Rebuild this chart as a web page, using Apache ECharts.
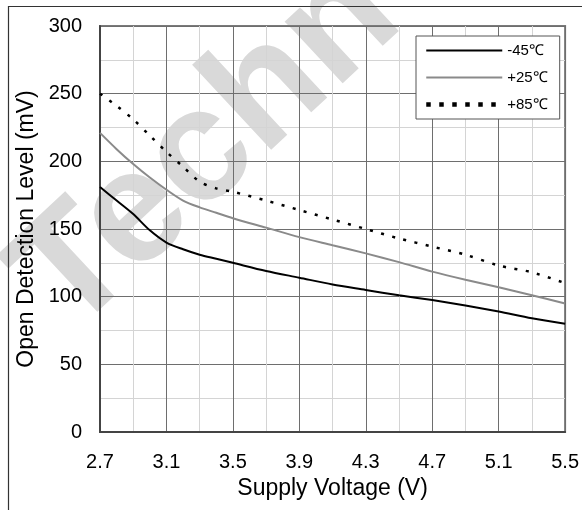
<!DOCTYPE html>
<html>
<head>
<meta charset="utf-8">
<script src="https://cdn.jsdelivr.net/npm/echarts@6/dist/echarts.min.js"></script>
<style>
  html, body { margin: 0; padding: 0; background: #fff; }
  #chart { width: 582px; height: 510px; }
</style>
</head>
<body>
<div id="chart"></div>
<script>
// Supply voltage sample points (V)
const voltages = [2.7, 2.8, 2.9, 3.0, 3.1, 3.2, 3.3, 3.4, 3.5, 3.7, 3.9, 4.1, 4.3, 4.5, 4.7, 4.9, 5.1, 5.3, 5.5];

// Open detection level (mV) per temperature
const levelMinus45 = [181, 171, 161, 149, 140, 135, 131, 128, 125, 119, 114, 109, 105, 101, 97.5, 93.5, 89, 84, 80];
const levelPlus25  = [221, 209, 198, 188, 179, 171, 166, 162, 158, 151, 144, 138, 132, 125.5, 118.5, 112.5, 107, 101, 95];
const levelPlus85  = [250, 241, 231, 219, 207, 196, 185, 180, 177.5, 171, 164, 157, 150, 143, 137, 131, 123, 118, 110];

const seriesNames = ['-45℃', '+25℃', '+85℃'];
const xTickLabels = ['2.7', '3.1', '3.5', '3.9', '4.3', '4.7', '5.1', '5.5'];
const yTickLabels = ['0', '50', '100', '150', '200', '250', '300'];

const FONT = '"Liberation Sans", Arial, sans-serif';

function pairs(xs, ys) {
  return xs.map((x, i) => [x, ys[i]]);
}

const chart = echarts.init(document.getElementById('chart'), null, { renderer: 'canvas' });

chart.setOption({
  backgroundColor: '#ffffff',
  animation: false,
  textStyle: { fontFamily: FONT },
  graphic: [
    {
      type: 'text',
      z: -10,
      x: 40,
      y: 305,
      rotation: 43 * Math.PI / 180,
      silent: true,
      style: {
        text: 'Techn',
        fontFamily: FONT,
        fontWeight: 'bold',
        fontSize: 160,
        fill: '#d9d9d9',
        align: 'left',
        verticalAlign: 'middle'
      }
    },
    {
      type: 'polyline',
      z: 10,
      silent: true,
      shape: { points: [[8.5, 510], [8.5, 6.5], [582, 6.5]] },
      style: { stroke: '#333', lineWidth: 1.2, fill: null }
    }
  ],
  grid: {
    left: 100, right: 12, top: 26, bottom: 78,
    show: true,
    borderColor: '#7a7a7a',
    borderWidth: 2,
    backgroundColor: 'transparent'
  },
  legend: {
    orient: 'vertical',
    left: 416,
    top: 36,
    padding: [7, 12, 7, 8],
    itemWidth: 76,
    itemHeight: 14,
    itemGap: 12,
    backgroundColor: '#ffffff',
    borderColor: '#555',
    borderWidth: 1,
    borderRadius: 0,
    z: 20,
    itemStyle: { color: 'rgba(0,0,0,0)', borderWidth: 0, opacity: 0 },
    textStyle: { fontFamily: FONT, fontSize: 15, color: '#000' },
    data: [
      { name: seriesNames[0] },
      { name: seriesNames[1] },
      { name: seriesNames[2], lineStyle: { width: 4.5, type: [4.5, 8.5] } }
    ]
  },
  xAxis: {
    type: 'value',
    min: 2.7,
    max: 5.5,
    interval: 0.4,
    name: 'Supply Voltage (V)',
    nameLocation: 'middle',
    nameGap: 43,
    nameTextStyle: { fontFamily: FONT, fontSize: 23, color: '#000' },
    axisLine: { show: true, lineStyle: { color: '#444', width: 2 } },
    axisTick: { show: false },
    axisLabel: {
      margin: 20,
      fontFamily: FONT,
      fontSize: 20,
      color: '#000',
      formatter: (v) => {
        const s = v.toFixed(1);
        return xTickLabels.includes(s) ? s : '';
      }
    },
    splitLine: { show: true, lineStyle: { color: '#6e6e6e', width: 1 } },
    minorTick: { show: false, splitNumber: 2 },
    minorSplitLine: { show: true, lineStyle: { color: '#d4d4d4', width: 1 } }
  },
  yAxis: {
    type: 'value',
    min: 0,
    max: 300,
    interval: 50,
    name: 'Open Detection Level (mV)',
    nameLocation: 'middle',
    nameGap: 62,
    nameTextStyle: { fontFamily: FONT, fontSize: 23, color: '#000' },
    axisLine: { show: true, lineStyle: { color: '#444', width: 2 } },
    axisTick: { show: false },
    axisLabel: {
      margin: 18,
      fontFamily: FONT,
      fontSize: 20,
      color: '#000',
      formatter: (v) => {
        const s = String(Math.round(v));
        return yTickLabels.includes(s) ? s : '';
      }
    },
    splitLine: { show: true, lineStyle: { color: '#6e6e6e', width: 1 } },
    minorTick: { show: false, splitNumber: 2 },
    minorSplitLine: { show: true, lineStyle: { color: '#d4d4d4', width: 1 } }
  },
  series: [
    {
      name: seriesNames[0],
      type: 'line',
      data: pairs(voltages, levelMinus45),
      smooth: 0.3,
      symbol: 'none',
      lineStyle: { color: '#000000', width: 2 },
      itemStyle: { color: '#000000' }
    },
    {
      name: seriesNames[1],
      type: 'line',
      data: pairs(voltages, levelPlus25),
      smooth: 0.3,
      symbol: 'none',
      lineStyle: { color: '#8a8a8a', width: 2 },
      itemStyle: { color: '#8a8a8a' }
    },
    {
      name: seriesNames[2],
      type: 'line',
      data: pairs(voltages, levelPlus85),
      smooth: 0.3,
      symbol: 'none',
      lineStyle: { color: '#000000', width: 2.5, type: [3, 8.5] },
      itemStyle: { color: '#000000' }
    }
  ]
});
</script>
</body>
</html>
